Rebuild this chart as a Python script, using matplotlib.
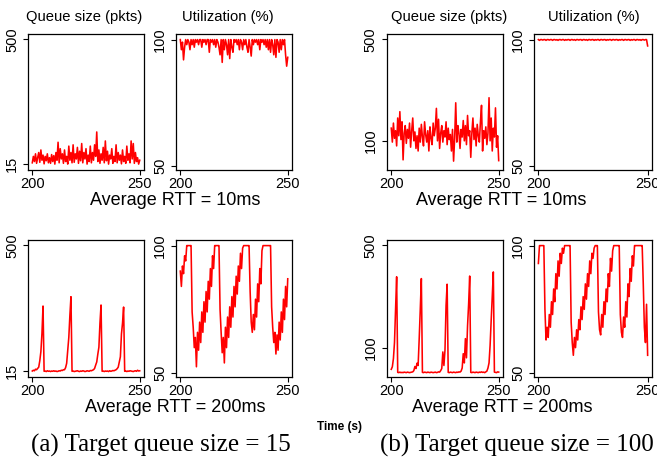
import numpy as np
import matplotlib
matplotlib.use("Agg")
import matplotlib.pyplot as plt

plt.rcParams['font.family'] = ['Liberation Sans', 'DejaVu Sans']

# === TIME AXIS (s), one sample every 0.5 s ===
t = np.arange(200, 250.25, 0.5)

# === (a) TARGET QUEUE = 15 ===
queue_a_rtt10 = [20, 45, 25, 55, 18, 40, 60, 22, 70, 30,
                 50, 16, 45, 28, 55, 20, 40, 18, 52, 25,
                 48, 15, 60, 30, 100, 20, 75, 35, 55, 18,
                 70, 25, 45, 15, 85, 30, 60, 20, 90, 22,
                 55, 35, 80, 18, 65, 28, 95, 20, 60, 35,
                 75, 15, 50, 25, 85, 20, 60, 30, 90, 45,
                 140, 25, 70, 18, 55, 30, 80, 20, 105, 28,
                 65, 15, 50, 35, 75, 18, 45, 25, 90, 20,
                 60, 30, 50, 16, 70, 25, 45, 18, 85, 30,
                 55, 20, 105, 35, 95, 18, 60, 25, 40, 15,
                 30]
util_a_rtt10 = [100, 96, 99, 92, 97, 100, 98, 100, 99, 96,
                100, 98, 100, 97, 100, 99, 100, 98, 100, 100,
                97, 100, 99, 100, 98, 100, 100, 95, 100, 99,
                100, 98, 100, 97, 100, 99, 97, 94, 100, 91,
                100, 96, 100, 98, 94, 100, 92.5, 100, 97, 95,
                100, 99, 100, 98, 100, 96, 100, 99, 96, 100,
                98, 100, 97, 95, 100, 97, 93.5, 100, 98, 100,
                99, 100, 98, 100, 96, 100, 99, 100, 98, 100,
                97, 100, 96, 100, 95, 100, 98, 94, 100, 93,
                100, 99, 95, 100, 96, 100, 98, 100, 94, 89.5,
                93]
queue_a_rtt200 = [15, 18, 16, 22, 20, 25, 30, 55, 90, 160,
                  266, 14, 15, 13, 16, 14, 15, 13, 15, 14,
                  16, 14, 15, 13, 14, 16, 15, 18, 17, 20,
                  20, 28, 45, 95, 145, 230, 302, 14, 15, 13,
                  14, 15, 16, 14, 13, 15, 14, 16, 15, 13,
                  14, 16, 15, 14, 17, 16, 18, 20, 25, 38,
                  50, 80, 107, 200, 270, 14, 15, 13, 15, 14,
                  15, 13, 16, 14, 15, 17, 16, 18, 20, 24,
                  30, 50, 70, 158, 200, 262, 14, 15, 13, 15,
                  14, 16, 15, 14, 13, 15, 16, 14, 18, 15,
                  16]
util_a_rtt200 = [90, 84, 92, 89, 96, 94, 100, 100, 100, 100,
                 100, 74, 68, 60, 64, 52.5, 66, 59, 70, 62,
                 74, 66, 78, 70, 82, 74, 86, 79, 91, 84,
                 96, 91, 100, 100, 100, 100, 100, 75, 66, 58,
                 64, 54, 68, 60, 72, 64, 76, 68, 80, 72,
                 84, 76, 88, 81, 92, 86, 97, 91, 99, 100,
                 100, 100, 100, 100, 100, 82, 70, 66, 73, 67,
                 79, 72, 85, 78, 91, 85, 98, 100, 100, 100,
                 100, 100, 100, 100, 100, 76, 68, 62, 66, 57.5,
                 65, 59, 70, 63, 74, 66, 79, 71, 84, 76,
                 87]

# === (b) TARGET QUEUE = 100 ===
queue_b_rtt10 = [150, 95, 170, 110, 140, 80, 190, 120, 215, 105,
                 175, 25, 130, 160, 90, 145, 110, 170, 75, 140,
                 190, 100, 135, 70, 120, 60, 150, 95, 165, 115,
                 80, 175, 125, 95, 140, 60, 155, 110, 85, 170,
                 120, 150, 228, 100, 185, 70, 130, 160, 95, 140,
                 115, 175, 85, 150, 105, 125, 60, 145, 20, 110,
                 250, 95, 160, 130, 70, 145, 115, 180, 100, 160,
                 85, 200, 120, 140, 35, 130, 190, 105, 150, 80,
                 165, 120, 95, 175, 240, 60, 140, 110, 155, 85,
                 130, 270, 100, 190, 60, 150, 115, 230, 75, 120,
                 22]
util_b_rtt10 = [100, 99.7, 100, 100, 99.8, 100, 100, 99.7, 100, 100,
                99.8, 100, 100, 99.7, 100, 100, 99.8, 100, 99.7, 100,
                100, 99.8, 100, 100, 99.7, 100, 99.8, 100, 100, 99.7,
                100, 100, 99.8, 100, 99.7, 100, 100, 99.8, 100, 100,
                99.7, 100, 100, 99.8, 100, 99.7, 100, 100, 99.8, 100,
                100, 99.7, 100, 99.8, 100, 100, 99.7, 100, 100, 99.8,
                100, 100, 99.7, 100, 99.8, 100, 100, 99.7, 100, 100,
                99.8, 100, 100, 99.7, 100, 99.8, 100, 100, 99.7, 100,
                100, 99.8, 100, 100, 99.7, 100, 99.8, 100, 100, 99.7,
                100, 100, 99.8, 100, 99.7, 100, 100, 99.8, 100, 100,
                97.5]
queue_b_rtt200 = [15, 25, 57, 120, 250, 377, 3, 2, 4, 2,
                  3, 2, 4, 3, 2, 4, 3, 2, 3, 4,
                  5, 10, 26, 18, 39, 30, 135, 250, 370, 3,
                  2, 4, 3, 2, 4, 3, 2, 4, 3, 2,
                  3, 4, 2, 3, 5, 4, 10, 18, 83, 30,
                  90, 265, 348, 3, 2, 4, 3, 2, 4, 3,
                  2, 4, 3, 5, 4, 8, 20, 76, 40, 135,
                  60, 185, 270, 380, 3, 2, 4, 3, 2, 4,
                  3, 2, 4, 3, 5, 3, 4, 2, 5, 8,
                  20, 40, 109, 207, 300, 396, 4, 3, 2, 5,
                  4]
util_b_rtt200 = [93, 100, 100, 100, 100, 100, 75, 63, 68, 64,
                 73, 68, 78, 73, 83, 78, 89, 83, 94, 88,
                 97, 93, 99, 97, 100, 100, 100, 100, 100, 100,
                 70, 62, 57, 64, 60, 67, 63, 71, 67, 76,
                 71, 80, 75, 85, 79, 89, 84, 94, 89, 97,
                 95, 99, 100, 100, 100, 74, 67, 65, 73, 68,
                 78, 73, 83, 78, 89, 84, 95, 90, 98, 100,
                 100, 100, 100, 100, 100, 73, 66, 64, 72, 68,
                 78, 72, 85, 80, 91, 86, 96, 92, 100, 100,
                 100, 100, 100, 100, 100, 100, 85, 68, 62, 77,
                 57]

queue_ticks_a = [15, 500]
queue_ticks_b = [100, 500]
util_ticks = [50, 100]

fig = plt.figure(figsize=(6.57, 4.58), dpi=100)

# axes boxes in figure fractions (left, bottom, width, height)
col_left = [0.0426, 0.2679, 0.589, 0.8128]
col_width = [0.1766, 0.1766, 0.1766, 0.1796]
row_bottom = [0.6288, 0.1769]
row_height = [0.2969, 0.2991]

panels = [
    (0, 0, queue_a_rtt10, queue_ticks_a, (-8, 521)),
    (0, 1, util_a_rtt10, util_ticks, (48.5, 102.2)),
    (0, 2, queue_b_rtt10, queue_ticks_b, (-15, 521)),
    (0, 3, util_b_rtt10, util_ticks, (48.5, 102.2)),
    (1, 0, queue_a_rtt200, queue_ticks_a, (-8, 521)),
    (1, 1, util_a_rtt200, util_ticks, (48.5, 102.2)),
    (1, 2, queue_b_rtt200, queue_ticks_b, (-15, 521)),
    (1, 3, util_b_rtt200, util_ticks, (48.5, 102.2)),
]

for row, col, values, yticks, ylim in panels:
    ax = fig.add_axes([col_left[col], row_bottom[row], col_width[col], row_height[row]])
    ax.plot(t, values, color='#ff0000', lw=1.15)
    ax.set_xlim(198, 252)
    ax.set_ylim(*ylim)
    ax.set_xticks([200, 250])
    ax.set_yticks(yticks)
    ax.set_yticklabels([str(v) for v in yticks], rotation=90, va='center')
    ax.tick_params(direction='out', length=3.5, width=0.8, labelsize=10.5)
    ax.tick_params(axis='x', pad=1.5)
    ax.tick_params(axis='y', pad=3)
    for s in ax.spines.values():
        s.set_linewidth(0.9)

# === TITLES AND LABELS ===
for x, txt in [(0.128, 'Queue size (pkts)'), (0.346, 'Utilization (%)'),
               (0.683, 'Queue size (pkts)'), (0.904, 'Utilization (%)')]:
    fig.text(x, 0.963, txt, ha='center', va='center', fontsize=10.6)

fig.text(0.266, 0.563, 'Average RTT = 10ms', ha='center', va='center', fontsize=13)
fig.text(0.763, 0.563, 'Average RTT = 10ms', ha='center', va='center', fontsize=13)
fig.text(0.266, 0.111, 'Average RTT = 200ms', ha='center', va='center', fontsize=13)
fig.text(0.764, 0.111, 'Average RTT = 200ms', ha='center', va='center', fontsize=13)

fig.text(0.517, 0.068, 'Time (s)', ha='center', va='center', fontsize=8.5, fontweight='bold')

fig.text(0.245, 0.028, '(a) Target queue size = 15', ha='center', va='center',
         fontsize=18, family='Liberation Serif')
fig.text(0.787, 0.028, '(b) Target queue size = 100', ha='center', va='center',
         fontsize=18, family='Liberation Serif')

fig.savefig('out.png', dpi=100)
